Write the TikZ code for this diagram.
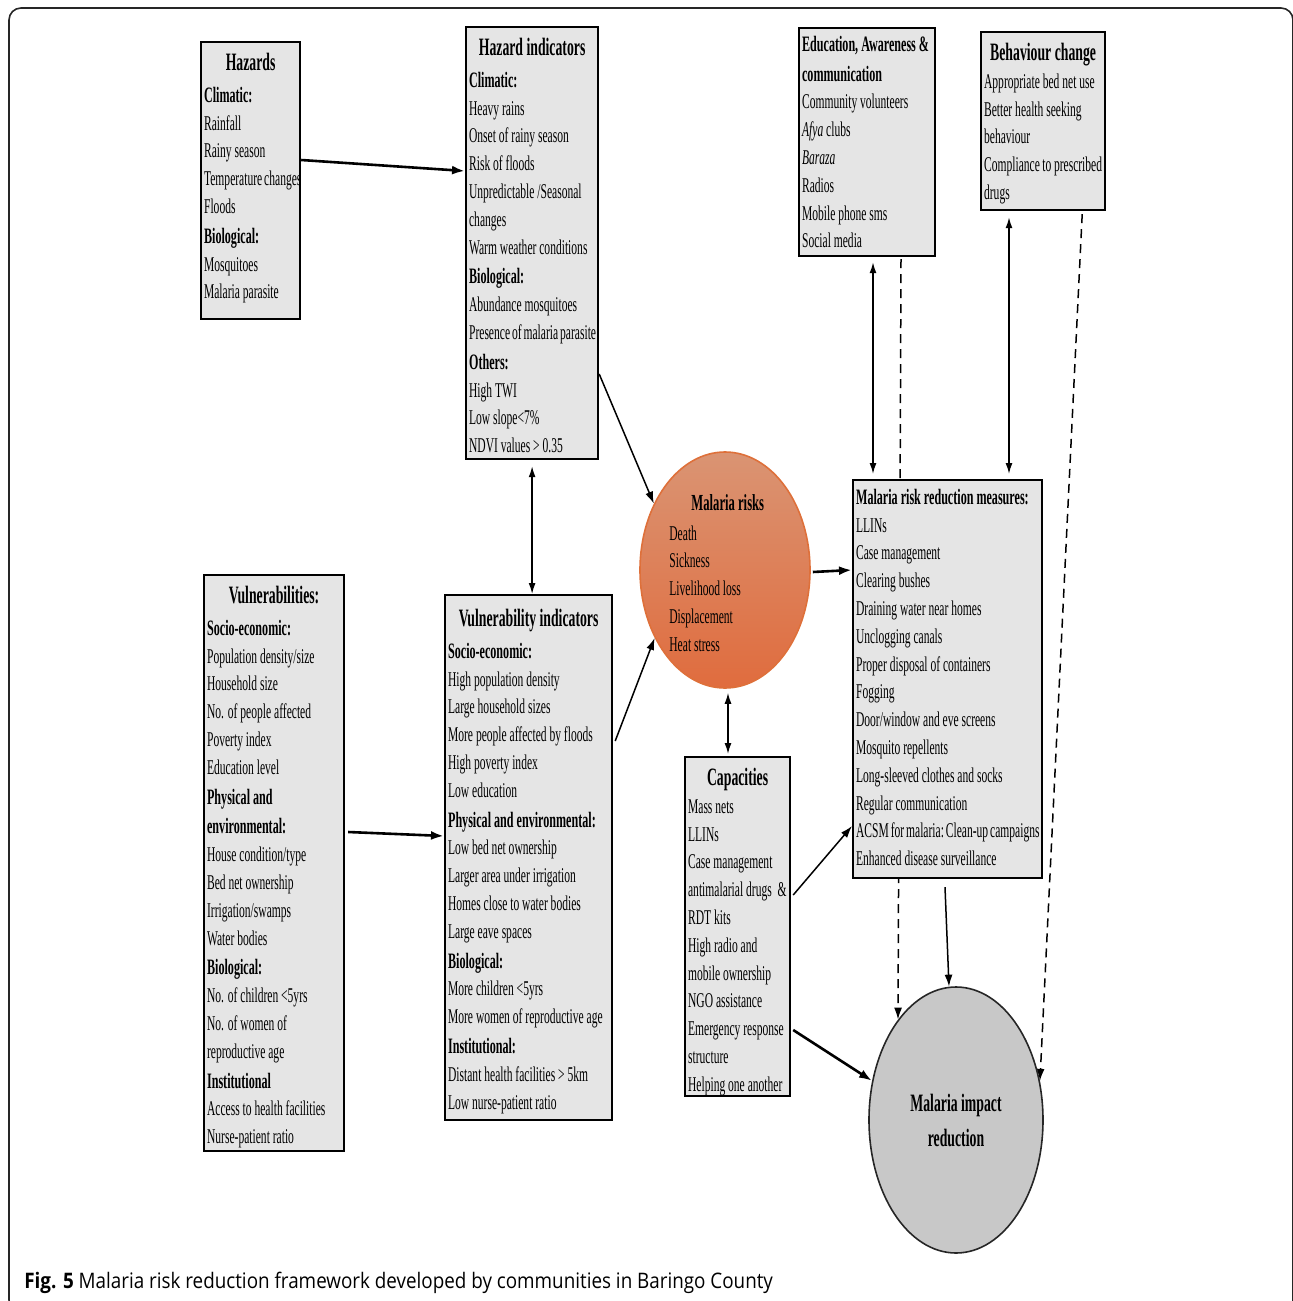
\documentclass[tikz,border=0pt]{standalone}
\usepackage{fontspec}
\setmainfont{Liberation Serif}[FakeStretch=0.55]
\newfontfamily\capfont{Open Sans}[FakeStretch=0.88]
\usetikzlibrary{shapes.geometric,arrows.meta,calc,backgrounds}

\definecolor{boxgray}{RGB}{229,229,229}
\definecolor{imgray}{RGB}{200,200,200}
\definecolor{risktop}{RGB}{218,148,115}
\definecolor{riskbot}{RGB}{224,108,62}
\definecolor{riskline}{RGB}{222,112,58}

\hyphenpenalty=10000
\exhyphenpenalty=10000

\newcommand{\bodyfont}{\fontsize{10.5}{13.9}\selectfont}
\newcommand{\hd}[1]{{\fontsize{11}{13.9}\selectfont\bfseries #1}}          % sub heading
\newcommand{\ttl}[1]{\hfill{\fontsize{12.5}{13.9}\selectfont\bfseries #1}\hfill\null} % box title

\tikzset{
  box/.style={draw=black, line width=1.1pt, fill=boxgray, anchor=north west,
              inner xsep=1.5pt, inner ysep=5.5pt, font=\bodyfont},
  arr/.style={-{Latex[length=6pt,width=4pt]}, line width=0.75pt},
  thickarr/.style={-{Latex[length=6.5pt,width=4.5pt]}, line width=1.3pt},
  darr/.style={{Latex[length=5.5pt,width=3.5pt]}-{Latex[length=5.5pt,width=3.5pt]}, line width=0.75pt},
  dasharr/.style={arr, dash pattern=on 4.5pt off 3pt},
}

\begin{document}
\begin{tikzpicture}[x=0.5pt, y=-0.5pt]
  \useasboundingbox (0,0) rectangle (1292,1301);
  \draw[rounded corners=6pt, line width=0.8pt, draw=black!85] (9,8) rectangle (1293,1312); % frame
  %
  % hazards
  \node[box] (hz) at (200,41) {\parbox[c][127.5pt][t]{46.5pt}{%
    \ttl{Hazards}\\[2pt]
    \hd{Climatic:}\\
    Rainfall\\
    Rainy season\\
    Temperature~changes\\
    Floods\\[1pt]
    \hd{Biological:}\\
    Mosquitoes\\
    Malaria parasite}};
  %
  \node[box] (hzi) at (465,26) {\parbox[c][205pt][t]{63pt}{%
    \ttl{Hazard indicators}\\[2pt]
    \hd{Climatic:}\\
    Heavy rains\\
    Onset of rainy season\\
    Risk of floods\\
    Unpredictable /Seasonal\\
    changes\\
    Warm weather conditions\\[1pt]
    \hd{Biological:}\\
    Abundance mosquitoes\\
    Presence~of~malaria~parasite\\[1pt]
    \hd{Others:}\\
    High TWI\\
    Low slope<7\%\\
    NDVI values > 0.35}};
  %
  % measures side
  \node[box] (edu) at (798,27) {\parbox[c][103pt][t]{65pt}{%
    \vspace*{-1.5pt}%
    \hd{Education, Awareness \&}\\[1pt]
    \hd{communication}\\
    Community volunteers\\
    \textit{Afya} clubs\\
    \textit{Baraza}\\
    Radios\\
    Mobile phone sms\\
    Social media}};
  %
  \node[box] (beh) at (980,31) {\parbox[c][78pt][t]{59pt}{%
    \ttl{Behaviour change}\\
    Appropriate bed net use\\
    Better health seeking\\
    behaviour\\
    Compliance to prescribed\\
    drugs}};
  %
  \node[box] (mrm) at (852,479) {\parbox[c][188pt][t]{91.5pt}{%
    \vspace*{-1pt}%
    \hd{Malaria risk reduction measures:}\\
    LLINs\\
    Case management\\
    Clearing bushes\\
    Draining water near homes\\
    Unclogging canals\\
    Proper disposal of containers\\
    Fogging\\
    Door/window and eve screens\\
    Mosquito repellents\\
    Long-sleeved clothes and socks\\
    Regular communication\\
    ACSM~for~malaria:~Clean-up~campaigns\\
    Enhanced disease surveillance}};
  %
  % vulnerabilities
  \node[box] (vul) at (203,574) {\parbox[c][277pt][t]{67pt}{%
    \ttl{Vulnerabilities:}\\[2pt]
    \hd{Socio-economic:}\\
    Population density/size\\
    Household size\\
    No. of people affected\\
    Poverty index\\
    Education level\\[1pt]
    \hd{Physical and}\\[1pt]
    \hd{environmental:}\\
    House condition/type\\
    Bed net ownership\\
    Irrigation/swamps\\
    Water bodies\\[1pt]
    \hd{Biological:}\\
    No. of children <5yrs\\
    No. of women of\\
    reproductive age\\[1pt]
    \hd{Institutional}\\
    Access to health facilities\\
    Nurse-patient ratio}};
  %
  \node[box] (vui) at (444,594) {\parbox[c][251.5pt][t]{80.5pt}{%
    \vspace*{1.5pt}%
    \ttl{Vulnerability indicators}\\[2pt]
    \hd{Socio-economic:}\\
    High population density\\
    Large household sizes\\
    More people affected by floods\\
    High poverty index\\
    Low education\\[1pt]
    \hd{Physical and environmental:}\\
    Low bed net ownership\\
    Larger area under irrigation\\
    Homes close to water bodies\\
    Large eave spaces\\[1pt]
    \hd{Biological:}\\
    More children <5yrs\\
    More women of reproductive age\\[1pt]
    \hd{Institutional:}\\
    Distant health facilities > 5km\\
    Low nurse-patient ratio}};
  %
  \node[box] (capa) at (684,756) {\parbox[c][158.5pt][t]{49.5pt}{%
    \ttl{Capacities}\\
    Mass nets\\
    LLINs\\
    Case management\\
    antimalarial drugs \ \&\\
    RDT kits\\
    High radio and\\
    mobile ownership\\
    NGO assistance\\
    Emergency response\\
    structure\\
    Helping one another}};
  %
  % the two ellipses
  \node[ellipse, draw=riskline, line width=0.8pt, top color=risktop, bottom color=riskbot,
        minimum width=85pt, minimum height=118pt, inner sep=0pt] (risk) at (725,570) {};
  \node[anchor=north west, inner sep=0pt, align=left, font=\bodyfont] (risktxt) at (669,494)
    {\hspace*{11pt}{\fontsize{11.5}{13.9}\selectfont\bfseries Malaria risks}\\[1pt]
     Death\\ Sickness\\ Livelihood loss\\ Displacement\\ Heat stress};
  %
  \node[ellipse, draw=black!85, line width=0.8pt, fill=imgray, minimum width=87pt,
        minimum height=133pt, inner sep=0pt, align=center,
        font=\fontsize{12.5}{17.5}\selectfont\bfseries] (imp) at (956,1120) {Malaria impact\\reduction};
  %
  % connectors
  \draw[thickarr] ($(hz.north east)+(0,119)$) -- ($(hzi.north west)+(0,145)$);
  \draw[arr] ($(hzi.north east)+(0,348)$) -- (risk.137);
  \draw[darr, shorten <=3pt] (hzi.south) -- (hzi.south |- vui.north);
  \draw[thickarr] ($(vul.north east)+(3,258)$) -- ($(vui.north west)+(0,242)$);
  \draw[arr] ($(vui.north east)+(2,147)$) -- (risk.224);
  \draw[thickarr] ($(risk.east)+(2,2)$) -- ($(mrm.north west)+(0,91)$);
  \draw[darr] ($(risk.south)+(3,4)$) -- ($(capa.north west)+(44,-2)$);
  \draw[darr] ($(edu.south west)+(75,5)$) -- ($(mrm.north west)+(21,-5)$);
  \draw[darr] ($(beh.south west)+(29,6)$) -- ($(mrm.north west)+(157,-5)$);
  \draw[arr] ($(capa.north east)+(2,139)$) -- ($(mrm.north west)+(0,347)$);
  \draw[thickarr] ($(capa.north east)+(2,274)$) -- (imp.155);
  \draw[arr] ($(mrm.south west)+(93,8)$) -- (imp.93);
  \begin{pgfonlayer}{background}
    \draw[dasharr] ($(edu.south west)+(103,2)$) -- (imp.120);   % behind measures box
    \draw[dasharr] ($(beh.south east)+(-24,3)$) -- (imp.25);
  \end{pgfonlayer}
  %
  \node[anchor=base west, inner sep=0pt, font=\capfont\fontsize{10.7}{12}\selectfont] (figcap) at (24,1288)
    {\textbf{Fig. 5} Malaria risk reduction framework developed by communities in Baringo County};
\end{tikzpicture}
\end{document}
